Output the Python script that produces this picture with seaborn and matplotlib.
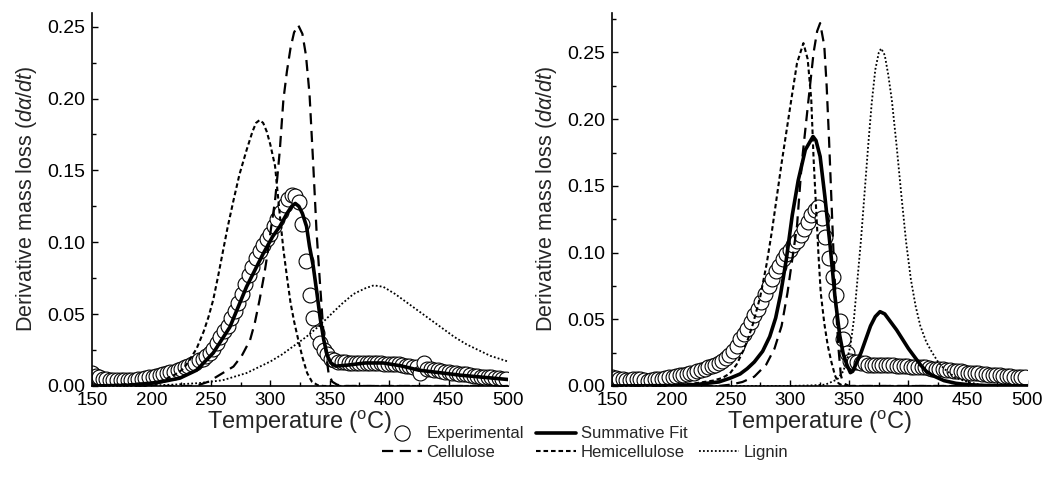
import numpy as np
import matplotlib
matplotlib.use("Agg")
import matplotlib.pyplot as plt
from matplotlib.lines import Line2D
from matplotlib.ticker import MultipleLocator, FormatStrFormatter
import seaborn as sns

# experimental DTG points, every 3 degC from 150
exp_T = np.arange(150, 499, 3)
exp_L = [0.009, 0.007, 0.006, 0.005, 0.005, 0.0045, 0.004, 0.004, 0.004, 0.004,
         0.004, 0.004, 0.0045, 0.005, 0.005, 0.0055, 0.006, 0.0065, 0.007, 0.0075,
         0.008, 0.009, 0.0095, 0.010, 0.011, 0.012, 0.013, 0.014, 0.015, 0.016,
         0.018, 0.019, 0.021, 0.023, 0.026, 0.030, 0.034, 0.038, 0.042, 0.047,
         0.052, 0.058, 0.064, 0.071, 0.077, 0.083, 0.089, 0.094, 0.098, 0.102,
         0.106, 0.111, 0.116, 0.121, 0.126, 0.130, 0.133, 0.132, 0.128, 0.113,
         0.087, 0.063, 0.047, 0.037, 0.030, 0.025, 0.022, 0.019, 0.018, 0.017,
         0.017, 0.017, 0.016, 0.016, 0.016, 0.016, 0.016, 0.016, 0.016, 0.016,
         0.016, 0.016, 0.0155, 0.0155, 0.015, 0.015, 0.015, 0.0145, 0.014, 0.014,
         0.0135, 0.013, 0.009, 0.016, 0.012, 0.0115, 0.011, 0.011, 0.0105, 0.010,
         0.0095, 0.009, 0.009, 0.0085, 0.008, 0.008, 0.0075, 0.007, 0.007, 0.0065,
         0.0065, 0.006, 0.006, 0.0055, 0.0055, 0.005, 0.005]
exp_R = [0.007, 0.006, 0.005, 0.005, 0.0045, 0.0045, 0.005, 0.005, 0.005, 0.0045,
         0.004, 0.0045, 0.005, 0.005, 0.0055, 0.006, 0.0065, 0.007, 0.0075, 0.008,
         0.0085, 0.009, 0.0095, 0.010, 0.011, 0.012, 0.013, 0.014, 0.015, 0.016,
         0.017, 0.019, 0.021, 0.023, 0.026, 0.030, 0.035, 0.039, 0.043, 0.048,
         0.053, 0.058, 0.063, 0.069, 0.075, 0.080, 0.086, 0.090, 0.095, 0.099,
         0.102, 0.106, 0.109, 0.113, 0.118, 0.123, 0.128, 0.132, 0.134, 0.126,
         0.112, 0.096, 0.082, 0.068, 0.049, 0.035, 0.025, 0.019, 0.018, 0.018,
         0.017, 0.017, 0.016, 0.016, 0.016, 0.016, 0.016, 0.016, 0.0155, 0.0155,
         0.015, 0.015, 0.015, 0.015, 0.0145, 0.0145, 0.014, 0.014, 0.014, 0.0135,
         0.013, 0.013, 0.0125, 0.0125, 0.012, 0.012, 0.0115, 0.011, 0.011, 0.0105,
         0.010, 0.010, 0.0095, 0.0095, 0.009, 0.009, 0.0085, 0.0085, 0.008, 0.008,
         0.0075, 0.0075, 0.0075, 0.007, 0.007, 0.007, 0.007]

# left panel components
cell_T_L = [150, 235, 241, 248, 255, 262, 269, 276, 283, 287, 291, 295, 298, 301, 304, 306,
            308, 311, 314, 317, 320, 323.5, 327, 330, 333, 336, 339, 342, 345, 349, 352, 356,
            360, 500]
cell_L = [0, 0, 0.001, 0.003, 0.0065, 0.010, 0.0135, 0.021, 0.032, 0.044, 0.060, 0.078,
          0.094, 0.112, 0.129, 0.146, 0.164, 0.199, 0.219, 0.235, 0.246, 0.251, 0.245, 0.230,
          0.203, 0.156, 0.106, 0.069, 0.034, 0.009, 0.003, 0.001, 0, 0]
hemi_T_L = [150, 200, 210, 220, 227, 232, 238, 244, 248, 252, 256, 260, 264, 269, 274, 280,
            285, 288, 291, 294, 297, 300, 304, 308, 311, 314, 317, 320, 323, 327, 331, 335,
            340, 345, 500]
hemi_L = [0, 0.002, 0.004, 0.008, 0.012, 0.018, 0.026, 0.038, 0.048, 0.060, 0.076, 0.093,
          0.110, 0.129, 0.147, 0.164, 0.177, 0.183, 0.185, 0.183, 0.177, 0.168, 0.153, 0.119,
          0.095, 0.076, 0.058, 0.045, 0.034, 0.020, 0.009, 0.003, 0.0005, 0, 0]
lig_T_L = [150, 200, 220, 240, 260, 280, 290, 300, 310, 320, 330, 340, 350, 360, 370, 380,
           387, 395, 405, 415, 425, 435, 445, 455, 465, 475, 485, 500]
lig_L = [0, 0.0003, 0.001, 0.002, 0.004, 0.009, 0.013, 0.017, 0.022, 0.028, 0.034, 0.041,
         0.049, 0.057, 0.064, 0.068, 0.070, 0.069, 0.064, 0.058, 0.052, 0.046, 0.040, 0.034,
         0.029, 0.025, 0.021, 0.017]
sum_T_L = [150, 180, 200, 212, 224, 238, 252, 266, 280, 294, 302, 308, 314, 318, 321, 324,
           327, 330.5, 333, 336, 339, 342, 345, 348, 351, 355, 365, 380, 395, 410, 425, 440,
           460, 480, 500]
sum_L = [0, 0.0005, 0.002, 0.0035, 0.0055, 0.011, 0.023, 0.041, 0.069, 0.092, 0.104, 0.111,
         0.120, 0.125, 0.127, 0.125, 0.120, 0.111, 0.097, 0.084, 0.066, 0.047, 0.032, 0.021,
         0.016, 0.0138, 0.0145, 0.016, 0.016, 0.014, 0.011, 0.0095, 0.0075, 0.006, 0.0045]

# right panel components
cell_T_R = [150, 240, 250, 260, 270, 280, 287, 293, 298, 302, 306, 310, 313, 316, 320, 323,
            325.5, 329, 331, 333, 335, 337, 339, 341, 343, 345, 350, 500]
cell_R = [0, 0, 0.001, 0.003, 0.007, 0.016, 0.028, 0.045, 0.070, 0.095, 0.120, 0.167, 0.192,
          0.217, 0.250, 0.266, 0.272, 0.255, 0.225, 0.185, 0.140, 0.095, 0.057, 0.028, 0.008,
          0.002, 0, 0]
hemi_T_R = [150, 200, 220, 235, 243, 249.5, 255, 261, 265, 269, 275, 280.5, 285, 289, 293,
            297.3, 301.6, 306, 311.4, 315, 318, 320, 322, 324, 326, 329, 332, 335, 338, 341,
            345, 500]
hemi_R = [0, 0.0005, 0.002, 0.004, 0.006, 0.0095, 0.016, 0.027, 0.036, 0.047, 0.067, 0.092,
          0.117, 0.142, 0.167, 0.192, 0.217, 0.242, 0.257, 0.245, 0.215, 0.170, 0.135, 0.100,
          0.070, 0.047, 0.030, 0.018, 0.008, 0.002, 0, 0]
lig_T_R = [150, 300, 320, 330, 340, 345, 348, 351, 354, 357, 360, 363, 366, 369, 372, 375,
           377, 380, 383, 386, 390, 394, 398, 402, 406, 410, 415, 420, 425, 430, 440, 450,
           460, 480, 500]
lig_R = [0, 0, 0.0005, 0.001, 0.005, 0.011, 0.019, 0.030, 0.050, 0.080, 0.110, 0.145, 0.180,
         0.212, 0.237, 0.250, 0.253, 0.248, 0.233, 0.214, 0.180, 0.143, 0.108, 0.080, 0.060,
         0.045, 0.033, 0.025, 0.018, 0.013, 0.006, 0.003, 0.001, 0, 0]
sum_T_R = [150, 200, 220, 240, 250, 258, 264, 270, 277, 283, 288, 292, 297, 302, 307, 313,
           319.5, 322, 325.5, 329.5, 334, 338, 342, 345, 348, 351, 353, 356, 360, 364, 368,
           372, 376, 380, 385, 390, 395, 400, 405, 410, 415, 420, 430, 440, 450, 470, 500]
sum_R = [0, 0.0003, 0.001, 0.003, 0.006, 0.009, 0.013, 0.018, 0.026, 0.037, 0.051, 0.068,
         0.095, 0.128, 0.154, 0.177, 0.187, 0.184, 0.172, 0.142, 0.1045, 0.067, 0.038, 0.024,
         0.016, 0.010, 0.011, 0.017, 0.025, 0.035, 0.045, 0.052, 0.0557, 0.054, 0.048, 0.042,
         0.035, 0.028, 0.022, 0.016, 0.011, 0.008, 0.004, 0.002, 0.001, 0.0002, 0]

sns.set_style("ticks")
plt.rcParams['font.family'] = ['Liberation Sans', 'DejaVu Sans']
plt.rcParams['mathtext.fontset'] = 'custom'
plt.rcParams['mathtext.rm'] = 'Liberation Sans'
plt.rcParams['mathtext.it'] = 'Liberation Sans:italic'

ls_cell = (0, (5, 3))
ls_hemi = (0, (2.2, 1.4))
ls_lig = (0, (1, 1.2))


def draw_panel(ax, exp_val, comps, ymax):
    sns.scatterplot(x=exp_T, y=exp_val, ax=ax, marker='o', s=115, color='white',
                    edgecolor='black', linewidth=0.8, zorder=2, legend=False)
    (cT, c), (hT, h), (lT, l), (sT, s) = comps
    sns.lineplot(x=cT, y=c, ax=ax, color='black', linewidth=1.6, linestyle=ls_cell, zorder=3)
    sns.lineplot(x=hT, y=h, ax=ax, color='black', linewidth=1.5, linestyle=ls_hemi, zorder=3)
    sns.lineplot(x=lT, y=l, ax=ax, color='black', linewidth=1.3, linestyle=ls_lig, zorder=3)
    sns.lineplot(x=sT, y=s, ax=ax, color='black', linewidth=2.6, zorder=4)

    ax.set_xlim(150, 500)
    ax.set_ylim(0, ymax)
    ax.xaxis.set_major_locator(MultipleLocator(50))
    ax.xaxis.set_minor_locator(MultipleLocator(25))
    ax.yaxis.set_major_locator(MultipleLocator(0.05))
    ax.yaxis.set_minor_locator(MultipleLocator(0.025))
    ax.yaxis.set_major_formatter(FormatStrFormatter('%.2f'))
    ax.tick_params(which='both', direction='in', width=1, colors='black')
    ax.tick_params(which='major', length=4)
    ax.tick_params(which='minor', length=3)
    ax.tick_params(axis='x', labelsize=13.5, pad=4)
    ax.tick_params(axis='y', labelsize=14, pad=5)
    sns.despine(ax=ax)
    for sp in ['left', 'bottom']:
        ax.spines[sp].set_linewidth(1.2)
        ax.spines[sp].set_color('black')
    ax.set_xlabel(r"Temperature ($^{\mathrm{o}}$C)", fontsize=17, labelpad=0.5)
    ax.set_ylabel(r"Derivative mass loss ($d\alpha/dt$)", fontsize=15.5, labelpad=6)


fig = plt.figure(figsize=(10.43, 4.79), dpi=100)
ax1 = fig.add_axes([0.0882, 0.1942, 0.3989, 0.7793])
ax2 = fig.add_axes([0.5868, 0.1942, 0.3979, 0.7793])

draw_panel(ax1, exp_L, [(cell_T_L, cell_L), (hemi_T_L, hemi_L), (lig_T_L, lig_L), (sum_T_L, sum_L)], 0.2597)
draw_panel(ax2, exp_R, [(cell_T_R, cell_R), (hemi_T_R, hemi_R), (lig_T_R, lig_R), (sum_T_R, sum_R)], 0.2798)

handles = [
    Line2D([], [], marker='o', markersize=11, markerfacecolor='white', markeredgecolor='black',
           markeredgewidth=0.8, linestyle='none'),
    Line2D([], [], color='black', linewidth=1.6, linestyle=ls_cell),
    Line2D([], [], color='black', linewidth=2.6),
    Line2D([], [], color='black', linewidth=1.5, linestyle=ls_hemi),
    Line2D([], [], color='none'),
    Line2D([], [], color='black', linewidth=1.3, linestyle=ls_lig),
]
labels = ['Experimental', 'Cellulose', 'Summative Fit', 'Hemicellulose', '', 'Lignin']
fig.legend(handles, labels, ncol=3, loc='center', bbox_to_anchor=(0.561, 0.075),
           frameon=False, fontsize=12, handlelength=2.4, handletextpad=0.3,
           columnspacing=0.7, labelspacing=0.2, borderpad=0)

fig.savefig("out.png", dpi=100)
